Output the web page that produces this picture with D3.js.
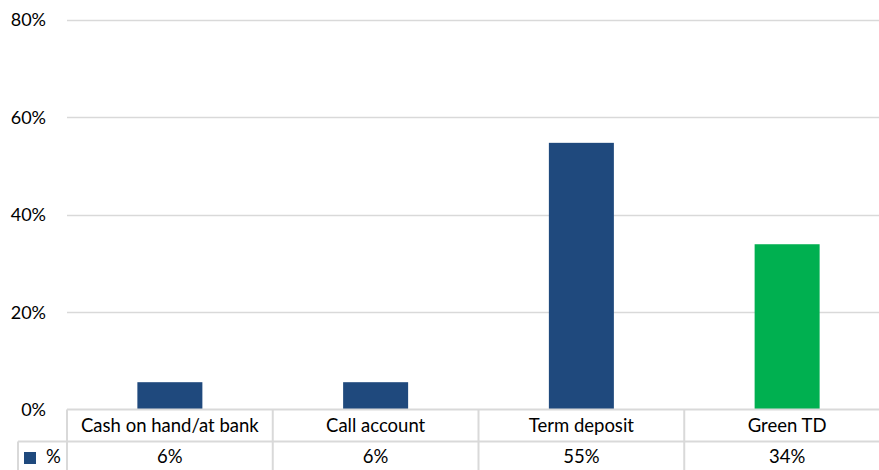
<!DOCTYPE html>
<html><head><meta charset="utf-8">
<script src="https://cdn.jsdelivr.net/npm/d3@7"></script>
<style>body{margin:0;background:#fff}svg{display:block;font-family:Lato,"Open Sans",sans-serif}</style>
</head><body><svg id="c" width="879" height="470"></svg>
<script>
const categories = ["Cash on hand/at bank","Call account","Term deposit","Green TD"];
const values = [0.056, 0.056, 0.547, 0.339];
const tableLabels = ["6%","6%","55%","34%"];
const barColors = ["#1f497d","#1f497d","#1f497d","#00b050"];
const seriesName = "%";
const yTicks = [0,0.2,0.4,0.6,0.8];

const svg = d3.select("#c");
const x0 = 67, x1 = 890, yTop = 19.5, yBot = 409.5;
const x = d3.scaleBand().domain(categories).range([x0,x1]).paddingInner(0).paddingOuter(0);
const y = d3.scaleLinear().domain([0,0.8]).range([yBot,yTop]);
const grid = "#d9d9d9";
const fs = 18.5;

svg.append("g").selectAll("line").data(yTicks.slice(1)).join("line")
  .attr("x1",x0).attr("x2",879).attr("y1",d=>Math.round(y(d))+0.5).attr("y2",d=>Math.round(y(d))+0.5)
  .attr("stroke",grid).attr("stroke-width",1.5);

const yAxis = d3.axisLeft(y).tickValues(yTicks).tickFormat(d3.format(".0%")).tickSize(0).tickPadding(0);
const ya = svg.append("g").attr("transform","translate(46,0)").call(yAxis);
ya.select(".domain").remove();
ya.selectAll("text").attr("font-size",18).attr("fill","#000").attr("font-family","Lato,'Open Sans',sans-serif").attr("dy","0.35em");

const bw = 65;
svg.append("g").selectAll("rect").data(values).join("rect")
  .attr("x",(d,i)=>x(categories[i])+x.bandwidth()/2-bw/2)
  .attr("width",bw)
  .attr("y",d=>y(d)).attr("height",d=>yBot-y(d))
  .attr("fill",(d,i)=>barColors[i]);

const rowH = 32, r1 = yBot, r2 = yBot+rowH, r3 = 470+5;
const lines = svg.append("g").attr("stroke",grid).attr("stroke-width",2);
lines.append("line").attr("x1",x0).attr("x2",879).attr("y1",r1).attr("y2",r1);
lines.append("line").attr("x1",18).attr("x2",879).attr("y1",r2).attr("y2",r2);
lines.append("line").attr("x1",18).attr("x2",18).attr("y1",r2).attr("y2",r3);
lines.selectAll(".v").data(categories).join("line").attr("class","v")
  .attr("x1",d=>x(d)).attr("x2",d=>x(d)).attr("y1",r1).attr("y2",r3);
lines.append("line").attr("x1",x1).attr("x2",x1).attr("y1",r1).attr("y2",r3);

svg.append("g").selectAll("text").data(categories).join("text")
  .attr("x",d=>x(d)+x.bandwidth()/2).attr("y",r1+rowH/2).attr("dy","0.35em")
  .attr("text-anchor","middle").attr("font-size",fs).text(d=>d);
svg.append("g").selectAll("text").data(tableLabels).join("text")
  .attr("x",(d,i)=>x(categories[i])+x.bandwidth()/2).attr("y",r2+rowH/2-1).attr("dy","0.35em")
  .attr("text-anchor","middle").attr("font-size",fs).text(d=>d);

svg.append("rect").attr("x",24).attr("y",452).attr("width",12).attr("height",12).attr("fill",barColors[0]);
svg.append("text").attr("x",46).attr("y",r2+rowH/2-1).attr("dy","0.35em").attr("font-size",fs).text(seriesName);
</script></body></html>
